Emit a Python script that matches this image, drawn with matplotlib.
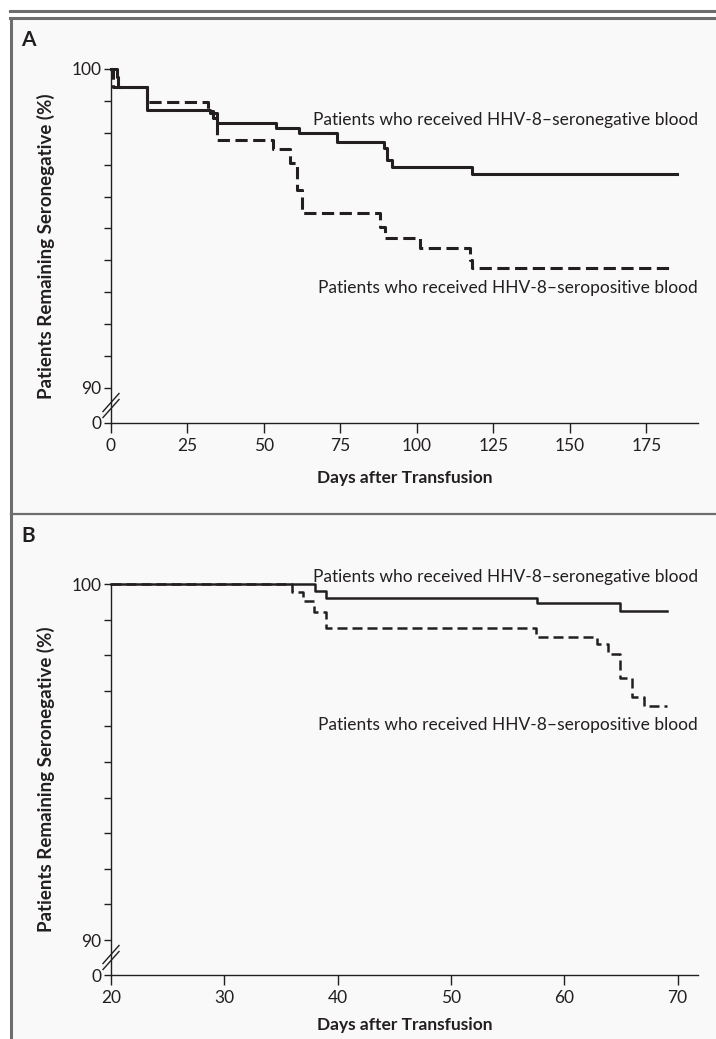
"""Kaplan-Meier style curves for HHV-8 seroconversion after transfusion."""

import matplotlib

matplotlib.use("Agg")

import matplotlib.pyplot as plt
from matplotlib.lines import Line2D
from matplotlib.patches import Rectangle

plt.rcParams["font.family"] = ["Lato", "DejaVu Sans"]

# Panel A: all patients, days 0-185
a_neg_days = [0, 1.9, 2.3, 11.7, 32.4, 34.6, 53.9, 61.5, 74.0, 89.4, 90.2, 91.8, 118.0, 185.0]
a_neg_pct = [100, 99.76, 99.45, 98.71, 98.61, 98.32, 98.14, 97.98, 97.72, 97.51, 97.15, 96.92, 96.70, 96.70]
a_pos_days = [0, 0.6, 11.7, 31.8, 33.5, 34.6, 53.1, 58.6, 60.7, 62.4, 88.0, 89.6, 100.9, 117.2, 118.0, 183.4]
a_pos_pct = [100, 99.45, 98.98, 98.69, 98.45, 97.77, 97.49, 97.04, 96.21, 95.48, 95.06, 94.69, 94.38, 94.01, 93.75, 93.75]

# Panel B: days 20-70
b_neg_days = [20, 38.0, 39.0, 57.6, 64.9, 69.1]
b_neg_pct = [100, 99.81, 99.62, 99.46, 99.24, 99.24]
b_pos_days = [20, 36.0, 36.9, 37.9, 39.0, 57.5, 62.9, 63.9, 64.9, 66.0, 67.0, 69.1]
b_pos_pct = [100, 99.78, 99.53, 99.22, 98.76, 98.50, 98.31, 98.03, 97.35, 96.83, 96.57, 96.57]

a_xticks = [0, 25, 50, 75, 100, 125, 150, 175]
b_xticks = [20, 30, 40, 50, 60, 70]

LABEL_NEG = "Patients who received HHV-8\u2013seronegative blood"
LABEL_POS = "Patients who received HHV-8\u2013seropositive blood"
YLABEL = "Patients Remaining Seronegative (%)"
XLABEL = "Days after Transfusion"

W, H = 716, 1039
INK = "#231f20"
FRAME = "#6d6d6d"


def fx(px):
    return px / W


def fy(px):
    return 1 - px / H


def make_panel(fig, top_px, zero_px, per_unit, xlim, xticks, xlabelpad):
    """Axes with a broken y axis: 0, then 90..100."""
    left, right = 111, 698
    height_px = zero_px - top_px
    ax = fig.add_axes([fx(left), fy(zero_px), fx(right - left), height_px / H])
    ax.patch.set_visible(False)
    zero_val = 90 - (zero_px - (top_px + 10 * per_unit)) / per_unit
    ax.set_ylim(zero_val, 100)
    ax.set_xlim(*xlim)
    for side in ("top", "right"):
        ax.spines[side].set_visible(False)
    for side in ("left", "bottom"):
        ax.spines[side].set_color(INK)
        ax.spines[side].set_linewidth(1.0)
    ax.set_yticks([zero_val, 90, 100])
    ax.set_yticklabels(["0", "90", "100"])
    ax.set_yticks(list(range(91, 100)), minor=True)
    ax.set_xticks(xticks)
    ax.set_xticklabels([str(t) for t in xticks])
    ax.tick_params(axis="both", which="both", direction="out", color=INK,
                   width=1.0, labelsize=12.5, labelcolor=INK)
    ax.tick_params(axis="y", which="both", length=5, pad=2)
    ax.tick_params(axis="x", length=7, pad=4)

    # "//" break marks on the y axis between 0 and 90
    ymid_px = zero_px - (zero_px - (top_px + 10 * per_unit)) / 2
    for d in (-3, 3):
        yc = fy(ymid_px + d)
        fig.add_artist(Line2D([fx(left - 8), fx(left + 8)],
                              [yc - 9 / H, yc + 9 / H],
                              color=INK, lw=1.0))
    ax.set_ylabel(YLABEL, fontsize=13.5, fontweight="bold", color=INK, labelpad=12)
    ax.set_xlabel(XLABEL, fontsize=12.5, fontweight="bold", color=INK, labelpad=xlabelpad)
    return ax


fig = plt.figure(figsize=(W / 100, H / 100), dpi=100)
fig.patch.set_facecolor("white")

# panel background and frame lines
fig.add_artist(Rectangle((fx(11), 0), 1 - fx(11), fy(18), transform=fig.transFigure,
                         facecolor="#f9f9f9", edgecolor="none", zorder=0))
fig.add_artist(Line2D([fx(10), 1], [fy(11), fy(11)], color=FRAME, lw=2.2))
fig.add_artist(Line2D([fx(10), 1], [fy(18), fy(18)], color=FRAME, lw=2.2))
fig.add_artist(Line2D([fx(11), fx(11)], [0, fy(18)], color=FRAME, lw=2.2))
fig.add_artist(Line2D([fx(11), 1], [fy(514), fy(514)], color=FRAME, lw=1.6))

fig.text(fx(21), fy(40), "A", fontsize=15, fontweight="bold", color=INK, va="center")
fig.text(fx(21), fy(536), "B", fontsize=15, fontweight="bold", color=INK, va="center")

# Panel A
ax_a = make_panel(fig, 69, 423, 31.9, (0, 191.9), a_xticks, 11)
ax_a.step(a_pos_days, a_pos_pct, where="post", color=INK, lw=2.2,
          dashes=(4, 1.8), clip_on=False)
ax_a.step(a_neg_days, a_neg_pct, where="post", color=INK, lw=2.2, clip_on=False)
ax_a.text(1.0, 98.40, LABEL_NEG, transform=ax_a.get_yaxis_transform(), ha="right",
          va="center", fontsize=12.5, color=INK)
ax_a.text(1.0, 93.13, LABEL_POS, transform=ax_a.get_yaxis_transform(), ha="right",
          va="center", fontsize=12.5, color=INK)

# Panel B
ax_b = make_panel(fig, 584, 975, 35.6, (20, 71.8), b_xticks, 8)
ax_b.step(b_pos_days, b_pos_pct, where="post", color=INK, lw=1.8,
          dashes=(4, 2), clip_on=False)
ax_b.step(b_neg_days, b_neg_pct, where="post", color=INK, lw=1.8, clip_on=False)
ax_b.text(1.0, 100.2, LABEL_NEG, transform=ax_b.get_yaxis_transform(), ha="right",
          va="center", fontsize=12.5, color=INK)
ax_b.text(1.0, 96.04, LABEL_POS, transform=ax_b.get_yaxis_transform(), ha="right",
          va="center", fontsize=12.5, color=INK)

fig.savefig("out.png", dpi=100, facecolor=fig.get_facecolor())
